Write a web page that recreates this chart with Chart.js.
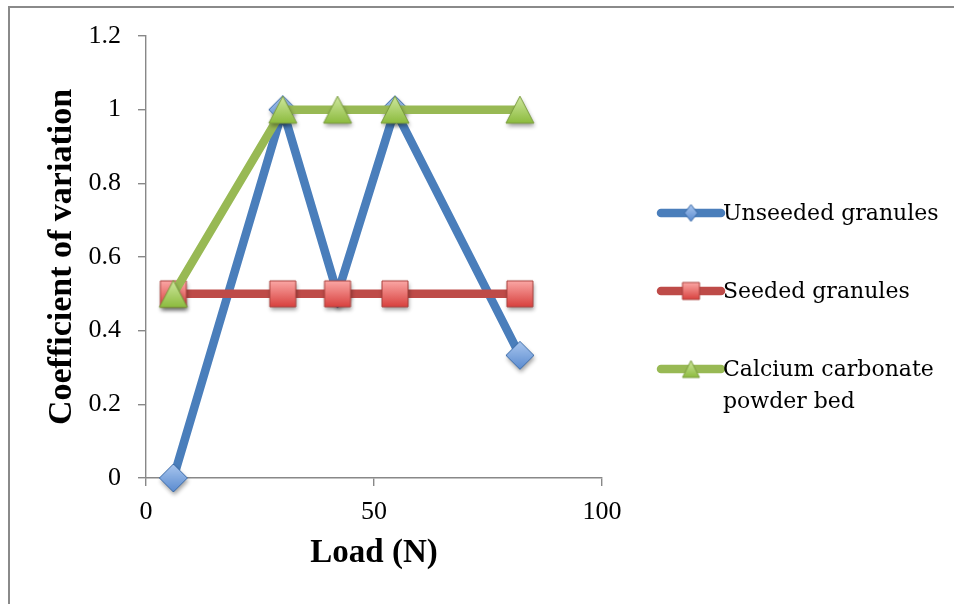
<!DOCTYPE html>
<html>
<head>
<meta charset="utf-8">
<script src="https://cdn.jsdelivr.net/npm/chart.js@4/dist/chart.umd.min.js"></script>
<style>
  html, body { margin: 0; padding: 0; background: #fff; overflow: hidden; }
  #frame {
    position: absolute; left: 8px; top: 6px; width: 2000px; height: 2000px;
    border-left: 2px solid #8a8a8a; border-top: 2px solid #8a8a8a;
  }
  #chart { position: absolute; left: 0; top: 0; }
</style>
</head>
<body>
<div id="frame"></div>
<canvas id="chart" width="954" height="604"></canvas>
<script>
const loads = [6, 30, 42, 54.6, 82];
const unseeded = [0, 1, 0.5, 1, 0.333];
const seeded = [0.5, 0.5, 0.5, 0.5, 0.5];
const calcium = [0.5, 1, 1, 1, 1];
const seriesNames = ["Unseeded granules", "Seeded granules", "Calcium carbonate powder bed"];
const xTicks = [0, 50, 100];
const yTicks = [0, 0.2, 0.4, 0.6, 0.8, 1, 1.2];
const yTickLabels = ["0", "0.2", "0.4", "0.6", "0.8", "1", "1.2"];

const AXIS = "#888888";

// gradient-filled marker with a soft drop shadow, used as a pointStyle image
function marker(shape, w, h, top, bottom, edge, shadow) {
  const pad = shadow ? 8 : 2;
  const c = document.createElement("canvas");
  c.width = Math.ceil(w + pad * 2);
  c.height = Math.ceil(h + pad * 2);
  const g = c.getContext("2d");
  const cx = c.width / 2, cy = c.height / 2;
  g.beginPath();
  if (shape === "diamond") {
    g.moveTo(cx, cy - h / 2); g.lineTo(cx + w / 2, cy);
    g.lineTo(cx, cy + h / 2); g.lineTo(cx - w / 2, cy);
  } else if (shape === "square") {
    g.rect(cx - w / 2, cy - h / 2, w, h);
  } else {
    g.moveTo(cx, cy - h / 2); g.lineTo(cx + w / 2, cy + h / 2); g.lineTo(cx - w / 2, cy + h / 2);
  }
  g.closePath();
  const grad = g.createLinearGradient(0, cy - h / 2, 0, cy + h / 2);
  grad.addColorStop(0, top);
  grad.addColorStop(1, bottom);
  g.fillStyle = grad;
  if (shadow) {
    g.shadowColor = "rgba(0,0,0,0.38)";
    g.shadowBlur = 4;
    g.shadowOffsetX = 1;
    g.shadowOffsetY = 3;
  }
  g.fill();
  g.shadowColor = "transparent";
  g.lineWidth = 1;
  g.strokeStyle = edge;
  g.stroke();
  return c;
}

const styles = [
  { line: "#4a7ebb", shape: "diamond", top: "#a9c6ee", bottom: "#5a8bd0", edge: "#3d6ca8", w: 28, h: 28, lw: 13, lh: 17 },
  { line: "#be4b48", shape: "square", top: "#fba7a5", bottom: "#d8413e", edge: "#a9403d", w: 26, h: 26, lw: 17, lh: 17 },
  { line: "#98b954", shape: "triangle", top: "#d0e8a0", bottom: "#8cbb3e", edge: "#7a9c3e", w: 28, h: 27, lw: 17, lh: 17 },
];
styles.forEach((s) => {
  s.img = marker(s.shape, s.w, s.h, s.top, s.bottom, s.edge, true);
  s.legendImg = marker(s.shape, s.lw, s.lh, s.top, s.bottom, s.edge, false);
});

function series(ys) {
  return loads.map((x, i) => ({ x, y: ys[i] }));
}

const values = [unseeded, seeded, calcium];

// legend on the right: thick line stub with the marker, wrapped label text
const sideLegend = {
  id: "sideLegend",
  afterDraw(chart) {
    const ctx = chart.ctx;
    const x0 = 661, x1 = 721, tx = 723, maxW = 226;
    let y = 213;
    ctx.save();
    ctx.font = "22px 'DejaVu Serif'";
    ctx.fillStyle = "#000";
    ctx.textBaseline = "middle";
    ctx.textAlign = "left";
    chart.data.datasets.forEach((ds, i) => {
      const s = styles[i];
      ctx.strokeStyle = s.line;
      ctx.lineWidth = 8.5;
      ctx.lineCap = "round";
      ctx.beginPath();
      ctx.moveTo(x0, y);
      ctx.lineTo(x1, y);
      ctx.stroke();
      const im = s.legendImg;
      ctx.drawImage(im, (x0 + x1) / 2 - im.width / 2, y - im.height / 2);

      const words = ds.label.split(" ");
      const lines = [];
      let cur = "";
      words.forEach((w) => {
        const t = cur ? cur + " " + w : w;
        if (ctx.measureText(t).width > maxW && cur) { lines.push(cur); cur = w; }
        else cur = t;
      });
      lines.push(cur);
      lines.forEach((l, k) => ctx.fillText(l, tx, y + 1 + k * 32));
      y += 78;
    });
    ctx.restore();
  },
};

Chart.defaults.font.family = "'Liberation Serif'";
Chart.defaults.color = "#000";

new Chart(document.getElementById("chart"), {
  type: "line",
  data: {
    datasets: values.map((ys, i) => ({
      label: seriesNames[i],
      data: series(ys),
      borderColor: styles[i].line,
      backgroundColor: styles[i].line,
      borderWidth: 8.5,
      pointStyle: styles[i].img,
      pointRadius: 14,
      pointHoverRadius: 14,
      tension: 0,
      clip: false,
      order: 3 - i,
    })),
  },
  options: {
    responsive: false,
    devicePixelRatio: 1,
    animation: false,
    events: [],
    layout: { padding: { left: 0, top: 36, right: 352, bottom: 0 } },
    plugins: { legend: { display: false }, tooltip: { enabled: false } },
    scales: {
      x: {
        type: "linear",
        min: 0, max: 100,
        afterBuildTicks: (s) => { s.ticks = xTicks.map((v) => ({ value: v })); },
        afterFit: (s) => { s.height = 126; },
        ticks: { font: { size: 26 }, padding: 11, maxRotation: 0 },
        grid: { drawOnChartArea: false, drawTicks: true, tickLength: 8, color: AXIS, lineWidth: 1.4 },
        border: { display: true, color: AXIS, width: 1.4 },
        title: {
          display: true, text: "Load (N)",
          font: { size: 33, weight: "bold" }, padding: { top: 0, bottom: 31 },
        },
      },
      y: {
        min: 0, max: 1.2,
        afterBuildTicks: (s) => { s.ticks = yTicks.map((v) => ({ value: v })); },
        afterFit: (s) => { s.width = 146; },
        ticks: { font: { size: 26 }, padding: 17, callback: (v, i) => yTickLabels[i] },
        grid: { drawOnChartArea: false, drawTicks: true, tickLength: 8, color: AXIS, lineWidth: 1.4 },
        border: { display: true, color: AXIS, width: 1.4 },
        title: {
          display: true, text: "Coefficient of variation",
          font: { size: 34, weight: "bold" }, padding: { top: 42, bottom: 0 },
        },
      },
    },
  },
  plugins: [sideLegend],
});
</script>
</body>
</html>
